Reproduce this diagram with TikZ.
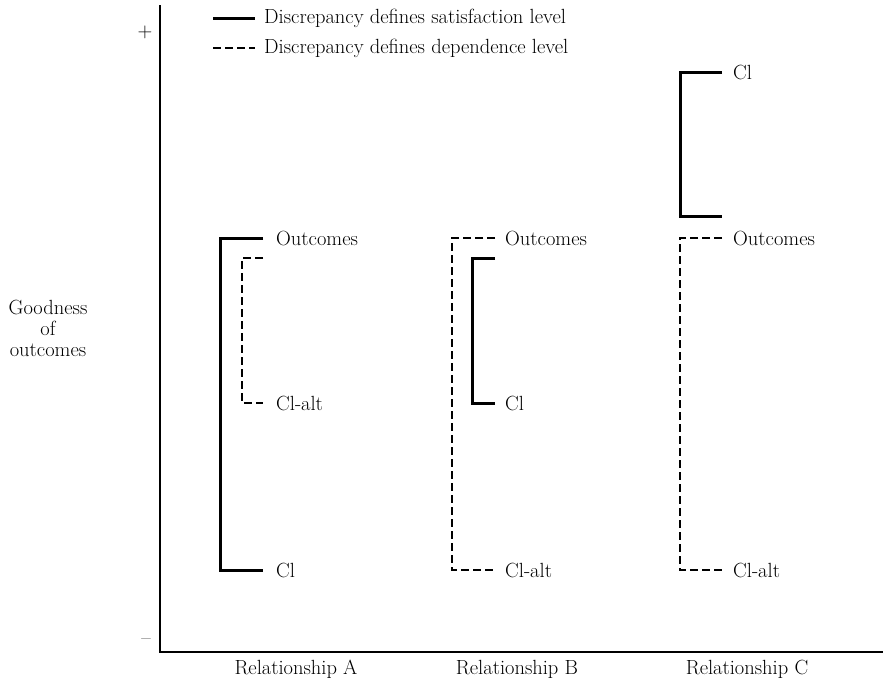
\documentclass[tikz,border=0pt]{standalone}
\usepackage{fontspec}
\begin{document}
\begin{tikzpicture}[x=1pt,y=-1pt,
  txt/.style={font=\fontsize{20.5}{23}\selectfont, inner sep=0pt},
  lbl/.style={txt, anchor=west},
  sat/.style={line width=3pt},
  dep/.style={line width=2pt, dash pattern=on 8pt off 4pt},
  axis/.style={line width=1.5pt}]
\useasboundingbox (0,0) rectangle (883,683);

% axes
\coordinate (ytop) at (160,5);
\coordinate (origin) at (160,652);
\coordinate (xend) at (883,652);
\draw[axis] (ytop) -- (origin) -- (xend);
\node[txt] (plus) at (145,32) {+};
\node[txt] (minus) at (146,642) {--};
\node[txt, align=center] (ylabel) at (48,328) {Goodness\\[-2pt]of\\[-2pt]outcomes};
\node[txt] (relA) at (296,669) {Relationship A};
\node[txt] (relB) at (517,669) {Relationship B};
\node[txt] (relC) at (747,669) {Relationship C};

% legend
\coordinate (leg1a) at (213,18); \coordinate (leg1b) at (255,18);
\coordinate (leg2a) at (213,48); \coordinate (leg2b) at (255,48);
\draw[sat] (leg1a) -- (leg1b);
\draw[dep] (leg2a) -- (leg2b);
\node[lbl] (leg1) at (264,18) {Discrepancy defines satisfaction level};
\node[lbl] (leg2) at (264,48) {Discrepancy defines dependence level};

% Relationship A
\node[lbl] (aOut) at (276,238) {Outcomes};
\node[lbl] (aAlt) at (276,403) {Cl-alt};
\node[lbl] (aCl) at (276,570) {Cl};
\coordinate (aS1) at (263,238); \coordinate (aS2) at (220,238);
\coordinate (aS3) at (220,570); \coordinate (aS4) at (263,570);
\draw[sat] (aS1) -- (aS2) -- (aS3) -- (aS4);
\coordinate (aD1) at (263,258); \coordinate (aD2) at (242,258);
\coordinate (aD3) at (242,403); \coordinate (aD4) at (263,403);
\draw[dep] (aD1) -- (aD2) -- (aD3) -- (aD4);

% Relationship B
\node[lbl] (bOut) at (505,238) {Outcomes};
\node[lbl] (bCl) at (505,403) {Cl};
\node[lbl] (bAlt) at (505,570) {Cl-alt};
\coordinate (bD1) at (495,238); \coordinate (bD2) at (452,238);
\coordinate (bD3) at (452,570); \coordinate (bD4) at (495,570);
\draw[dep] (bD1) -- (bD2) -- (bD3) -- (bD4);
\coordinate (bS1) at (495,258); \coordinate (bS2) at (472,258);
\coordinate (bS3) at (472,403); \coordinate (bS4) at (495,403);
\draw[sat] (bS1) -- (bS2) -- (bS3) -- (bS4);

% Relationship C
\node[lbl] (cCl) at (733,72) {Cl};
\node[lbl] (cOut) at (733,238) {Outcomes};
\node[lbl] (cAlt) at (733,570) {Cl-alt};
\coordinate (cS1) at (722,72); \coordinate (cS2) at (680,72);
\coordinate (cS3) at (680,216); \coordinate (cS4) at (722,216);
\draw[sat] (cS1) -- (cS2) -- (cS3) -- (cS4);
\coordinate (cD1) at (722,238); \coordinate (cD2) at (680,238);
\coordinate (cD3) at (680,570); \coordinate (cD4) at (722,570);
\draw[dep] (cD1) -- (cD2) -- (cD3) -- (cD4);
\end{tikzpicture}
\end{document}
